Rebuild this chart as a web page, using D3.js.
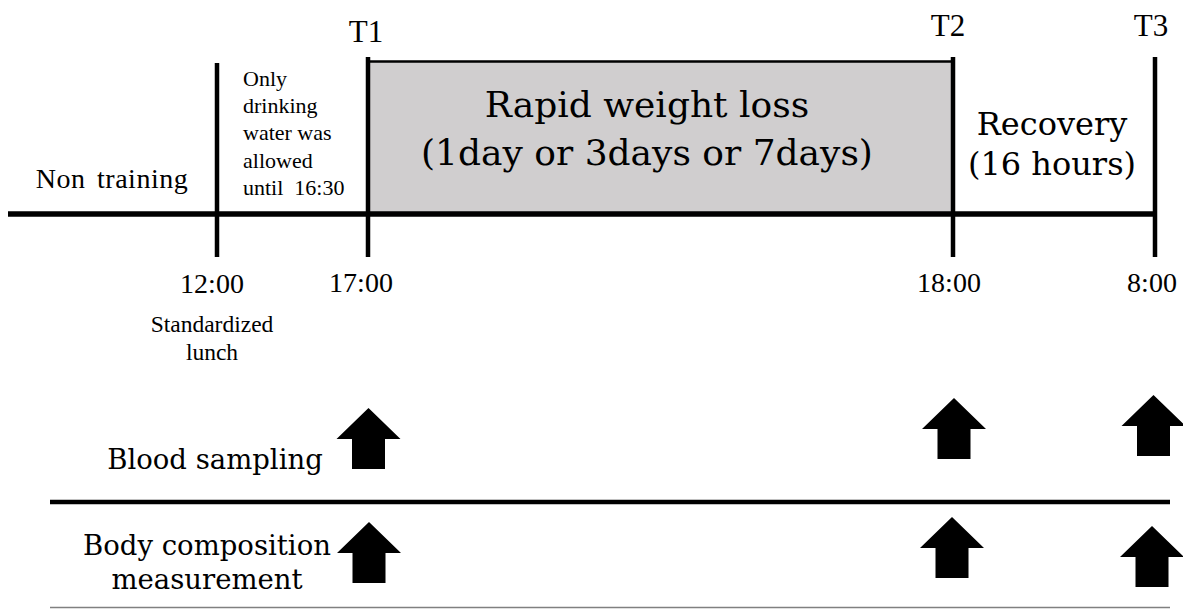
<!DOCTYPE html>
<html>
<head>
<meta charset="utf-8">
<script src="https://cdn.jsdelivr.net/npm/d3@7"></script>
<style>
  html, body { margin: 0; padding: 0; background: #ffffff; }
  svg { display: block; }
</style>
</head>
<body>
<svg id="chart" width="1183" height="609"></svg>
<script>
// ---------- data ----------
const timeEvents   = ["12:00", "17:00", "18:00", "8:00"];
const timePoints   = ["T1", "T2", "T3"];              // sampling points
const timePointAt  = ["17:00", "18:00", "8:00"];      // clock time of each T
const lunchNote    = ["Standardized", "lunch"];
const nonTraining  = "Non training";
const waterNote    = ["Only", "drinking", "water was", "allowed", "until  16:30"];
const rwlPhase     = ["Rapid weight loss", "(1day or 3days or 7days)"];
const recoveryPhase = ["Recovery", "(16 hours)"];
const measurements = ["Blood sampling", "Body composition\nmeasurement"];

// ---------- layout ----------
const svg = d3.select("#chart");
const x = d3.scaleOrdinal().domain(timeEvents).range([217, 368, 953, 1155]);
const axisY = 214;
const serifCentury = "'DejaVu Serif', serif";
const serifTimes = "'Liberation Serif', 'Times New Roman', serif";

// gray rapid weight loss box
svg.append("rect")
  .attr("x", x("17:00")).attr("y", 61)
  .attr("width", x("18:00") - x("17:00")).attr("height", axisY - 61)
  .attr("fill", "#d0cecf");
svg.append("line")
  .attr("x1", x("17:00")).attr("x2", x("18:00"))
  .attr("y1", 61.5).attr("y2", 61.5)
  .attr("stroke", "#000").attr("stroke-width", 2.5);

// main time axis
svg.append("line")
  .attr("x1", 8).attr("x2", x("8:00") + 2)
  .attr("y1", axisY).attr("y2", axisY)
  .attr("stroke", "#000").attr("stroke-width", 5.5);

// vertical ticks
svg.selectAll("line.tick").data(timeEvents).enter().append("line")
  .attr("class", "tick")
  .attr("x1", d => x(d)).attr("x2", d => x(d))
  .attr("y1", d => d === "12:00" ? 63 : 57).attr("y2", 257)
  .attr("stroke", "#000").attr("stroke-width", 4.5);

// time labels
const timeLabelDx = {"12:00": -5, "17:00": -7, "18:00": -4, "8:00": -3};
svg.selectAll("text.time").data(timeEvents).enter().append("text")
  .attr("class", "time")
  .attr("x", d => x(d) + timeLabelDx[d])
  .attr("y", d => d === "12:00" ? 293 : 292)
  .attr("text-anchor", "middle")
  .attr("font-family", serifTimes).attr("font-size", 28)
  .text(d => d);

// T labels
const tBaseline = {"T1": 42, "T2": 36, "T3": 36};
const tDx = {"T1": -2, "T2": -5, "T3": -4};
svg.selectAll("text.tp").data(timePoints).enter().append("text")
  .attr("class", "tp")
  .attr("x", (d, i) => x(timePointAt[i]) + tDx[d])
  .attr("y", d => tBaseline[d])
  .attr("text-anchor", "middle")
  .attr("font-family", serifTimes).attr("font-size", 31)
  .text(d => d);

// standardized lunch
svg.append("text")
  .attr("x", x("12:00") - 5).attr("y", 332)
  .attr("text-anchor", "middle")
  .attr("font-family", serifTimes).attr("font-size", 23.5)
  .selectAll("tspan").data(lunchNote).enter().append("tspan")
  .attr("x", x("12:00") - 5).attr("dy", (d, i) => i === 0 ? 0 : 28)
  .text(d => d);

// Non training
svg.append("text")
  .attr("x", 112).attr("y", 188)
  .attr("text-anchor", "middle")
  .attr("font-family", serifTimes).attr("font-size", 28)
  .attr("letter-spacing", 0.5)
  .attr("word-spacing", 4)
  .text(nonTraining);

// water note
svg.append("text")
  .attr("x", 243).attr("y", 86)
  .attr("font-family", serifTimes).attr("font-size", 22)
  .selectAll("tspan").data(waterNote).enter().append("tspan")
  .attr("x", 243).attr("dy", (d, i) => i === 0 ? 0 : 27.2)
  .attr("xml:space", "preserve")
  .style("white-space", "pre")
  .text(d => d);

// rapid weight loss text
svg.append("text")
  .attr("text-anchor", "middle")
  .attr("font-family", serifCentury).attr("font-size", 36)
  .selectAll("tspan").data(rwlPhase).enter().append("tspan")
  .attr("x", 647).attr("y", (d, i) => i === 0 ? 117 : 165)
  .text(d => d);

// recovery text
svg.append("text")
  .attr("text-anchor", "middle")
  .attr("font-family", serifCentury).attr("font-size", 32)
  .selectAll("tspan").data(recoveryPhase).enter().append("tspan")
  .attr("x", 1052).attr("y", (d, i) => i === 0 ? 135 : 175)
  .text(d => d);

// measurement rows
const rowLabelX = [215, 207];
const rowLabelY = [469, 555];
measurements.forEach((m, r) => {
  const lines = m.split("\n");
  svg.append("text")
    .attr("text-anchor", "middle")
    .attr("font-family", serifCentury).attr("font-size", 27.5)
    .selectAll("tspan").data(lines).enter().append("tspan")
    .attr("x", rowLabelX[r]).attr("y", (d, i) => rowLabelY[r] + i * 34)
    .text(d => d);
});

// block arrows (one per measurement per time point)
const arrowTop = [[408, 398, 395], [522, 517, 526]];
const arrowDx  = [[0.5, 1, -1.5], [1, -1, -3]];
const headH = 31, totalH = 61, headHW = 32, shaftHW = 16.5;
function arrowPath(cx, top) {
  const p = d3.path();
  p.moveTo(cx, top);
  p.lineTo(cx + headHW, top + headH);
  p.lineTo(cx + shaftHW, top + headH);
  p.lineTo(cx + shaftHW, top + totalH);
  p.lineTo(cx - shaftHW, top + totalH);
  p.lineTo(cx - shaftHW, top + headH);
  p.lineTo(cx - headHW, top + headH);
  p.closePath();
  return p.toString();
}
measurements.forEach((m, r) => {
  svg.selectAll("path.arrow" + r).data(timePointAt).enter().append("path")
    .attr("class", "arrow" + r)
    .attr("d", (d, i) => arrowPath(x(d) + arrowDx[r][i], arrowTop[r][i]))
    .attr("fill", "#000");
});

// row separators
svg.append("line")
  .attr("x1", 50).attr("x2", 1170).attr("y1", 502).attr("y2", 502)
  .attr("stroke", "#000").attr("stroke-width", 4.5);
svg.append("line")
  .attr("x1", 50).attr("x2", 1170).attr("y1", 607.5).attr("y2", 607.5)
  .attr("stroke", "#808080").attr("stroke-width", 1.5);
</script>
</body>
</html>
